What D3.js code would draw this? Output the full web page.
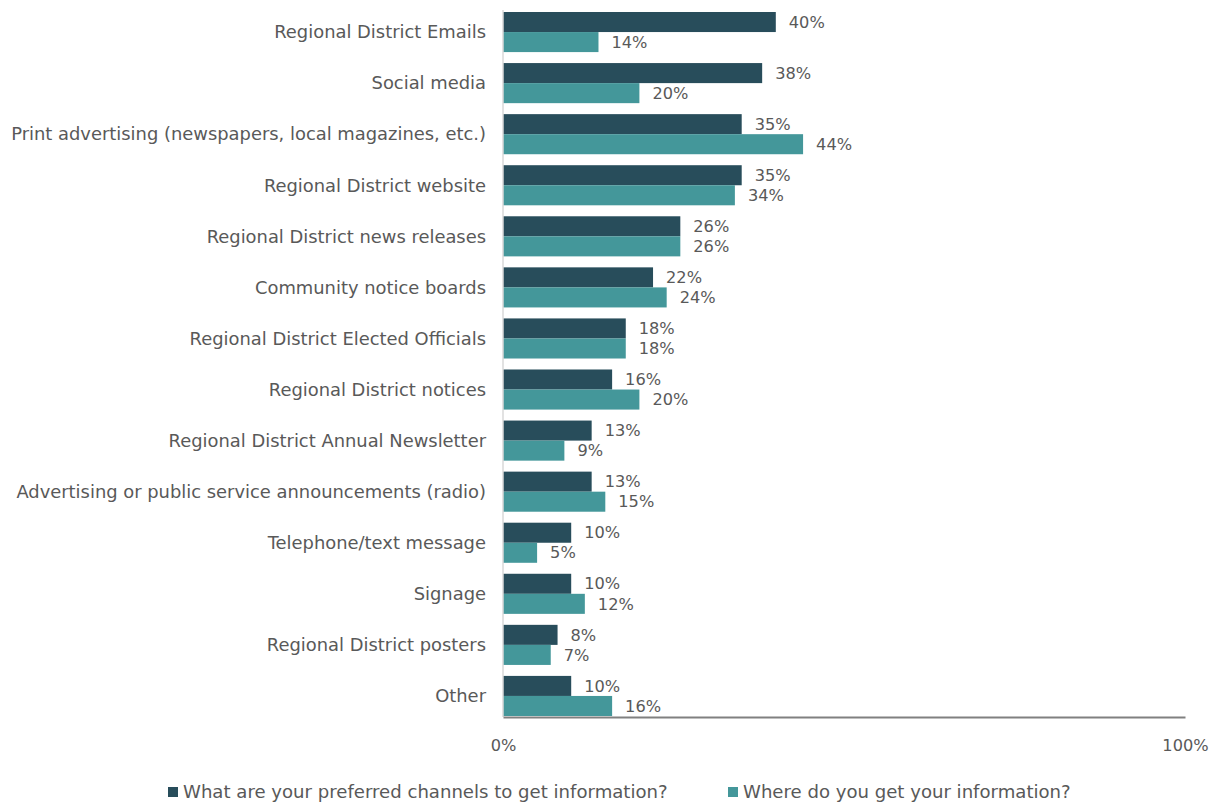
<!DOCTYPE html>
<html>
<head>
<meta charset="utf-8">
<script src="https://cdn.jsdelivr.net/npm/d3@7"></script>
<style>
  html, body { margin: 0; padding: 0; background: #fff; }
  svg { display: block; }
  text { font-family: "DejaVu Sans", sans-serif; fill: #595959; }
</style>
</head>
<body>
<svg id="chart" width="1217" height="804"></svg>
<script>
const categories = [
  "Regional District Emails",
  "Social media",
  "Print advertising (newspapers, local magazines, etc.)",
  "Regional District website",
  "Regional District news releases",
  "Community notice boards",
  "Regional District Elected Officials",
  "Regional District notices",
  "Regional District Annual Newsletter",
  "Advertising or public service announcements (radio)",
  "Telephone/text message",
  "Signage",
  "Regional District posters",
  "Other"
];
const preferred = [40, 38, 35, 35, 26, 22, 18, 16, 13, 13, 10, 10, 8, 10];
const current   = [14, 20, 44, 34, 26, 24, 18, 20, 9, 15, 5, 12, 7, 16];
const seriesNames = [
  "What are your preferred channels to get information?",
  "Where do you get your information?"
];
const xTicks = [0, 100];

const colors = ["#284d5b", "#44979a"];
const svg = d3.select("#chart");
const plotLeft = 503, plotRight = 1185, plotBottom = 717;
const barsTop = 12, barsBottom = 716;

const x = d3.scaleLinear().domain([0, 100]).range([plotLeft, plotRight]);
const y = d3.scaleBand().domain(categories).range([barsTop, barsBottom]).paddingInner(0.215).paddingOuter(0);
const sub = d3.scaleBand().domain([0, 1]).range([0, y.bandwidth()]).padding(0);

const rows = categories.map((c, i) => ({ c, vals: [preferred[i], current[i]] }));

const g = svg.append("g");
const groups = g.selectAll("g.row").data(rows).join("g")
  .attr("class", "row")
  .attr("transform", d => `translate(0,${y(d.c)})`);

groups.selectAll("rect").data(d => d.vals.map((v, k) => ({ v, k }))).join("rect")
  .attr("x", x(0))
  .attr("y", d => sub(d.k))
  .attr("width", d => x(d.v) - x(0))
  .attr("height", sub.bandwidth())
  .attr("fill", d => colors[d.k]);

groups.selectAll("text.val").data(d => d.vals.map((v, k) => ({ v, k }))).join("text")
  .attr("class", "val")
  .attr("x", d => x(d.v) + 13)
  .attr("y", d => sub(d.k) + sub.bandwidth() / 2)
  .attr("dy", "0.35em")
  .attr("font-size", 16.2)
  .text(d => d.v + "%");

// category labels
g.selectAll("text.cat").data(categories).join("text")
  .attr("class", "cat")
  .attr("x", plotLeft - 17)
  .attr("y", c => y(c) + y.bandwidth() / 2)
  .attr("dy", "0.35em")
  .attr("text-anchor", "end")
  .attr("font-size", 17.9)
  .text(c => c);

// vertical baseline
g.append("line")
  .attr("x1", plotLeft).attr("x2", plotLeft)
  .attr("y1", 10).attr("y2", plotBottom)
  .attr("stroke", "#d9d9d9").attr("stroke-width", 1.5);

// bottom axis
const xAxis = d3.axisBottom(x).tickValues(xTicks).tickFormat(d => d + "%").tickSize(0).tickPadding(22);
const ax = svg.append("g").attr("transform", `translate(0,${plotBottom})`).call(xAxis);
ax.select(".domain").attr("stroke", "#808080").attr("stroke-width", 2);
ax.selectAll("text").attr("font-size", 16.2).attr("font-family", "DejaVu Sans, sans-serif").attr("fill", "#595959");

// legend
const legendX = [168, 728];
const lg = svg.append("g").attr("transform", "translate(0,792)");
seriesNames.forEach((name, i) => {
  lg.append("rect").attr("x", legendX[i]).attr("y", -5).attr("width", 10).attr("height", 10).attr("fill", colors[i]);
  lg.append("text").attr("x", legendX[i] + 15).attr("y", 0).attr("dy", "0.35em")
    .attr("font-size", 18.1).text(name);
});
</script>
</body>
</html>
